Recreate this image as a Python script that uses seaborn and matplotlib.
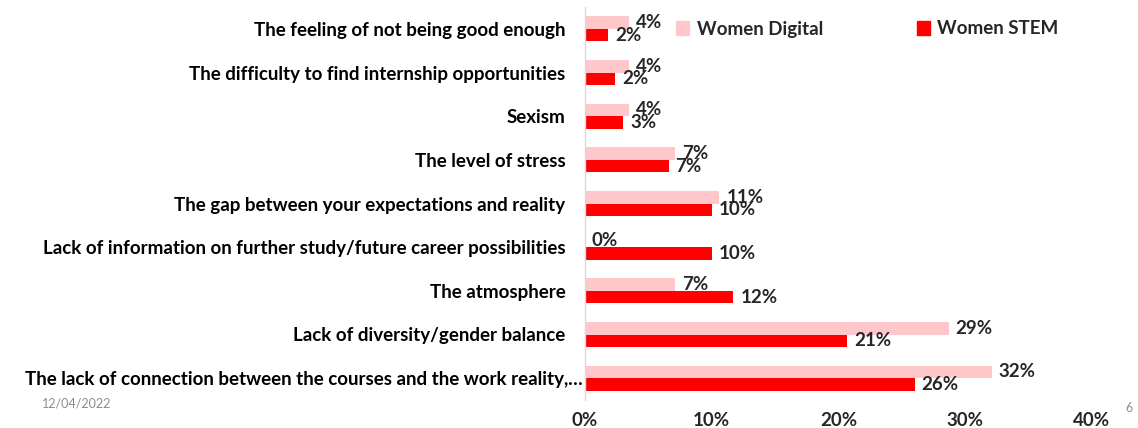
import matplotlib
matplotlib.use("Agg")
import matplotlib.pyplot as plt
import matplotlib.transforms as mtransforms
from matplotlib.ticker import FixedLocator
import seaborn as sns
import pandas as pd

categories = [
    "The feeling of not being good enough",
    "The difficulty to find internship opportunities",
    "Sexism",
    "The level of stress",
    "The gap between your expectations and reality",
    "Lack of information on further study/future career possibilities",
    "The atmosphere",
    "Lack of diversity/gender balance",
    "The lack of connection between the courses and the work reality,…",
]
women_digital = [3.5, 3.5, 3.5, 7.1, 10.6, 0.0, 7.1, 28.7, 32.1]
women_stem = [1.8, 2.4, 3.0, 6.6, 10.0, 10.0, 11.7, 20.7, 26.0]
digital_labels = ["4%", "4%", "4%", "7%", "11%", "0%", "7%", "29%", "32%"]
stem_labels = ["2%", "2%", "3%", "7%", "10%", "10%", "12%", "21%", "26%"]
series_names = ["Women Digital", "Women STEM"]
x_ticks = [0, 10, 20, 30, 40]
x_tick_labels = ["0%", "10%", "20%", "30%", "40%"]

df = pd.DataFrame({
    "category": categories * 2,
    "value": women_digital + women_stem,
    "group": [series_names[0]] * len(categories) + [series_names[1]] * len(categories),
})

sns.set_style("white")
plt.rcParams["font.family"] = ["Lato", "DejaVu Sans"]
plt.rcParams["font.weight"] = "bold"

FS = 13.5

fig = plt.figure(figsize=(11.38, 4.28), dpi=100)
ax = fig.add_axes([585 / 1138, 1 - 400 / 428, (1092 - 585) / 1138, (400 - 7) / 428])

palette = {"Women Digital": "#FFC7CA", "Women STEM": "#FF0000"}
sns.barplot(data=df, y="category", x="value", hue="group", orient="h",
            palette=palette, width=0.57, saturation=1, linewidth=0,
            hue_order=series_names, ax=ax)

ax.set_xlim(0, 40)
ax.set_ylim(len(categories) - 0.5, -0.5)
ax.xaxis.set_major_locator(FixedLocator(x_ticks))
ax.set_xticklabels(x_tick_labels, fontsize=FS, fontweight="bold", color="#262626")
ax.set_yticks(range(len(categories)))
ax.set_yticklabels(categories, fontsize=FS, fontweight="bold", color="#000000")
ax.tick_params(axis="both", length=0)
ax.tick_params(axis="x", pad=9)
ax.tick_params(axis="y", pad=14)
ax.set_xlabel("")
ax.set_ylabel("")
for s in ["top", "right", "bottom"]:
    ax.spines[s].set_visible(False)
ax.spines["left"].set_color("#D9D9D9")
ax.spines["left"].set_linewidth(1)

for cont, labs in zip(ax.containers, [digital_labels, stem_labels]):
    ax.bar_label(cont, labels=labs, padding=5, fontsize=FS, fontweight="bold",
                 color="#262626")

leg = ax.get_legend()
if leg is not None:
    leg.remove()
handles = [plt.Rectangle((0, 0), 1, 1, color=palette[n]) for n in series_names]
fig.legend(handles, series_names, loc="center left",
           bbox_to_anchor=(676 / 1138, 1 - 29 / 428), ncol=2, frameon=False,
           handlelength=0.7, handleheight=0.8,
           handletextpad=0.4, columnspacing=5.0, borderpad=0, borderaxespad=0,
           prop={"weight": "bold", "size": FS})

# shift the long last category label slightly right (as in the original)
last = ax.get_yticklabels()[-1]
last.set_transform(last.get_transform() +
                   mtransforms.ScaledTranslation(17 / 100, 0, fig.dpi_scale_trans))

fig.text(42 / 1138, 1 - 403 / 428, "12/04/2022", fontsize=9, fontweight="normal",
         color="#8C8C8C", va="center", ha="left")
fig.text(1133 / 1138, 1 - 408 / 428, "6", fontsize=9, fontweight="normal",
         color="#8C8C8C", va="center", ha="right")

fig.savefig("out.png", dpi=100)
